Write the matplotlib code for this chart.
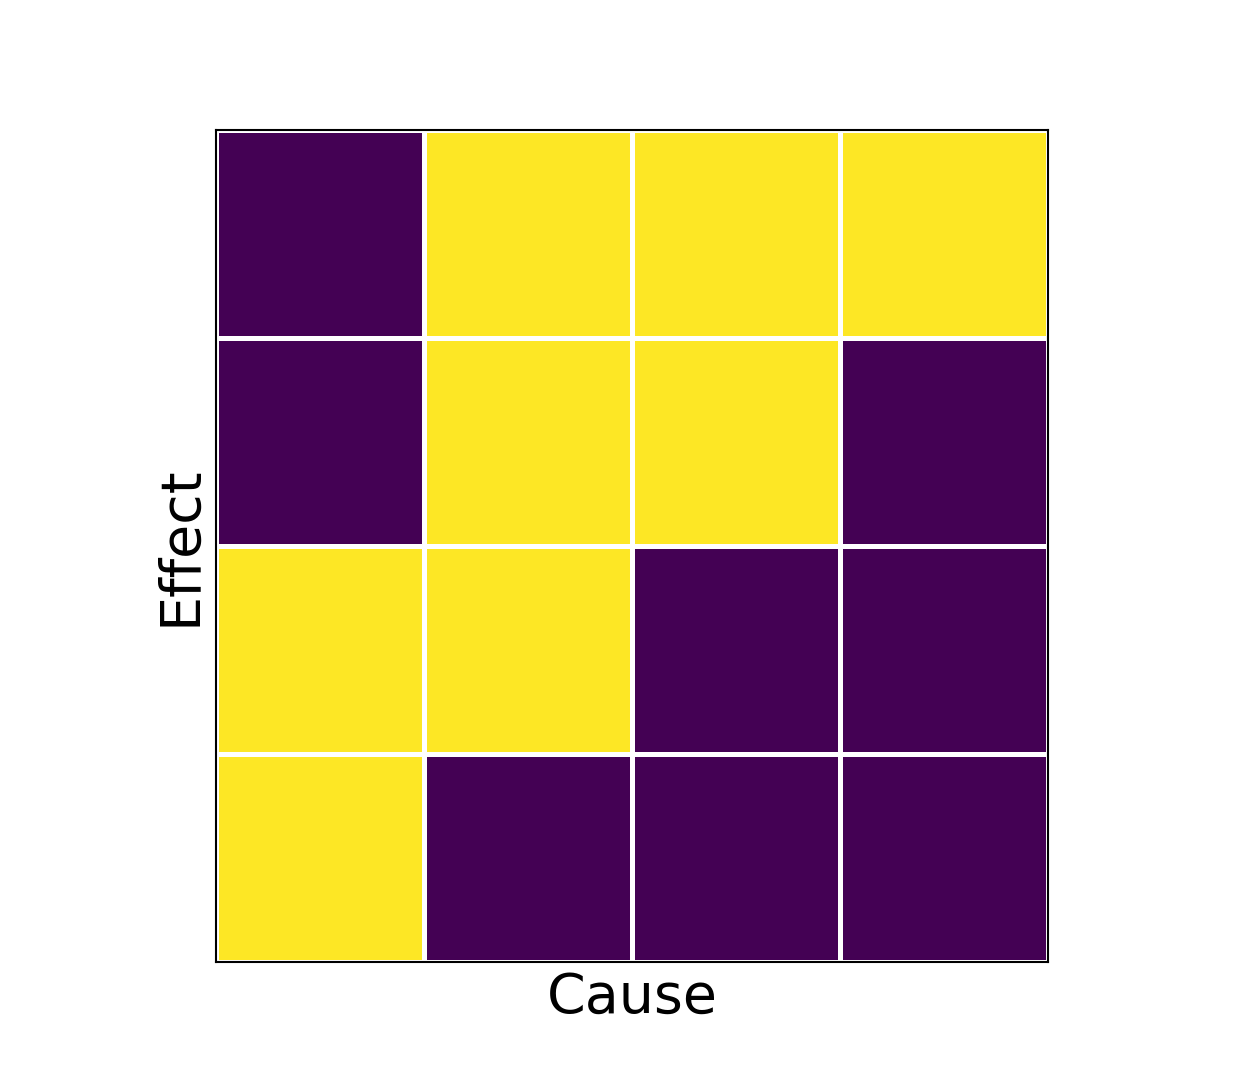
import matplotlib
matplotlib.use("Agg")
import matplotlib.pyplot as plt
import numpy as np

causes = ["C1", "C2", "C3", "C4"]
effects = ["E1", "E2", "E3", "E4"]
# rows top to bottom
matrix = [
    [0, 1, 1, 1],
    [0, 1, 1, 0],
    [1, 1, 0, 0],
    [1, 0, 0, 0],
]

fig = plt.figure(figsize=(12.33, 10.81), dpi=100)
ax = fig.add_axes([216/1233, 1 - 962/1081, (1048-216)/1233, (962-130)/1081])
data = np.array(matrix)
ax.pcolormesh(np.arange(len(causes) + 1), np.arange(len(effects) + 1), data,
              cmap="viridis", vmin=0, vmax=1, edgecolors="white", linewidth=2.3)
ax.set_xlim(0, len(causes))
ax.set_ylim(len(effects), 0)
ax.set_xticks([])
ax.set_yticks([])
for s in ax.spines.values():
    s.set_linewidth(1.5)
ax.set_xlabel("Cause", fontsize=40, labelpad=6)
ax.set_ylabel("Effect", fontsize=40, labelpad=6)
fig.savefig("out.png", dpi=100)
